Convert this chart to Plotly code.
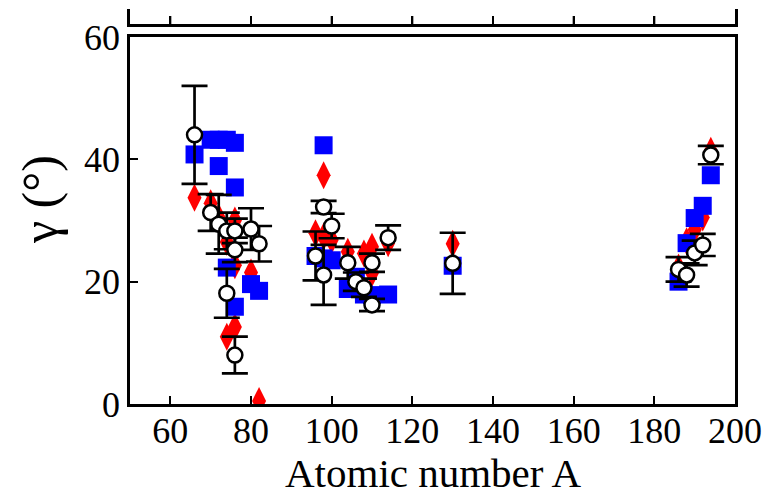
import plotly.graph_objects as go

# Open circles with error bars
circ_A = [66, 70, 72, 74, 76, 80, 82, 76, 74, 76,
          96, 98, 98, 100, 104, 106, 108, 110, 110, 114,
          130,
          186, 188, 190, 192, 194]
circ_g = [44, 31.3, 29.4, 28.3, 28.3, 28.6, 26.2, 25.2, 18.1, 8.0,
          24.2, 32.2, 21.1, 29.1, 23.1, 20.0, 19.0, 23.1, 16.2, 27.2,
          23.0,
          22.0, 21.1, 24.7, 26.0, 40.7]
circ_err = [8, 3, 4.8, 3, 2, 3.4, 2.9, 2, 4, 3,
            4, 1, 4.9, 2, 2.6, 1.5, 1.5, 1.5, 1, 2,
            5,
            2, 1.9, 2, 1.8, 1.5]

# Red diamonds
red_A = [66, 70, 72, 74, 76, 76, 80, 74, 76, 82,
         96, 98, 98, 100, 104, 108, 110, 110, 114,
         130,
         186, 188, 190, 192, 194]
red_g = [33.7, 32.8, 30.5, 26.5, 30.0, 22.7, 21.5, 11.0, 12.6, 0.5,
         27.9, 37.4, 27.4, 26.8, 24.9, 24.6, 25.7, 21.4, 26.3,
         26.2,
         22.3, 26.6, 28.5, 30.5, 41.4]

# Blue squares
blue_A = [66, 70, 72, 74, 76, 72, 76, 74, 80, 82, 76,
          96, 98, 100, 98, 104, 106, 108, 110, 114,
          130,
          186, 188, 190, 192, 194]
blue_g = [40.8, 43.2, 43.2, 43.2, 42.7, 38.9, 35.4, 22.3, 19.6, 18.5, 15.9,
          24.2, 23.8, 23.5, 42.3, 18.8, 20.8, 17.9, 17.8, 17.9,
          22.6,
          20.0, 26.3, 30.4, 32.4, 37.4]

x_ticks = [60, 80, 100, 120, 140, 160, 180, 200]
y_ticks = [0, 20, 40, 60]
x_title = "Atomic number A"
y_title = "γ (°)"

FONT = "Liberation Serif"
FS = 36

fig = go.Figure()
fig.add_trace(go.Scatter(x=red_A, y=red_g, mode="markers",
                         marker=dict(symbol="diamond-tall", size=20, color="#ff0000",
                                     line=dict(width=0)),
                         showlegend=False))
fig.add_trace(go.Scatter(x=blue_A, y=blue_g, mode="markers",
                         marker=dict(symbol="square", size=18, color="#0000ff",
                                     line=dict(width=0)),
                         showlegend=False))
fig.add_trace(go.Scatter(x=circ_A, y=circ_g, mode="markers",
                         error_y=dict(type="data", array=circ_err, color="black",
                                      thickness=2.7, width=13),
                         marker=dict(symbol="circle", size=15, color="white",
                                     line=dict(color="black", width=2.5)),
                         showlegend=False))
# invisible trace for the upper (cut-off) panel
fig.add_trace(go.Scatter(x=[50, 200], y=[0.5, 0.5], xaxis="x2", yaxis="y2",
                         mode="markers", marker=dict(opacity=0),
                         hoverinfo="skip", showlegend=False))

H = 492 - 9 - 88
ytop = (404 - 37) / H
y2bot = (404 - 24) / H

fig.update_layout(
    width=767, height=492,
    margin=dict(l=130, r=32, t=9, b=88),
    plot_bgcolor="white", paper_bgcolor="white",
    font=dict(family=FONT, size=FS, color="black"),
    xaxis=dict(range=[50, 200], tickvals=x_ticks, ticks="inside", ticklen=8,
               tickwidth=2, tickcolor="black", showline=True, linewidth=2.5,
               linecolor="black", mirror=True, showgrid=False, zeroline=False,
               automargin=False, anchor="y", tickfont=dict(size=FS),
               ticklabelstandoff=-7),
    yaxis=dict(range=[0, 60], domain=[0, ytop], tickvals=y_ticks, ticks="inside",
               ticklen=8, tickwidth=2, tickcolor="black", showline=True,
               linewidth=2.5, linecolor="black", mirror=True, showgrid=False,
               zeroline=False, automargin=False, anchor="x",
               tickfont=dict(size=FS)),
    xaxis2=dict(range=[50, 200], anchor="y2", side="bottom",
                tickvals=x_ticks[:-1], ticks="inside", ticklen=8,
                tickwidth=2, tickcolor="black", showticklabels=False,
                showline=True, linewidth=2.5, linecolor="black", mirror=False,
                showgrid=False, zeroline=False, automargin=False),
    yaxis2=dict(range=[0, 1], domain=[y2bot, 1], anchor="x2", ticks="",
                showticklabels=False, showline=True, linewidth=2.5,
                linecolor="black", mirror=True, showgrid=False,
                zeroline=False, automargin=False),
)

# axis titles as annotations (exact placement)
fig.add_annotation(text=x_title, xref="paper", yref="paper", x=0.5,
                   y=(404 - 448) / H, xanchor="center", yanchor="top",
                   showarrow=False, font=dict(size=41))
fig.add_annotation(text=y_title, xref="paper", yref="paper",
                   x=(40 - 130) / (767 - 130 - 32), y=(404 - 200) / H,
                   xanchor="center", yanchor="middle", textangle=-90,
                   showarrow=False, font=dict(size=50))

# tick marks of the upper panel's bottom spine (drawn on the x2 scale)
for tv in x_ticks[:-1]:
    fig.add_shape(type="line", xref="x2", yref="paper", x0=tv, x1=tv,
                  y0=y2bot, y1=y2bot + 8 / H, line=dict(color="black", width=2))

fig.write_html("out.html")
